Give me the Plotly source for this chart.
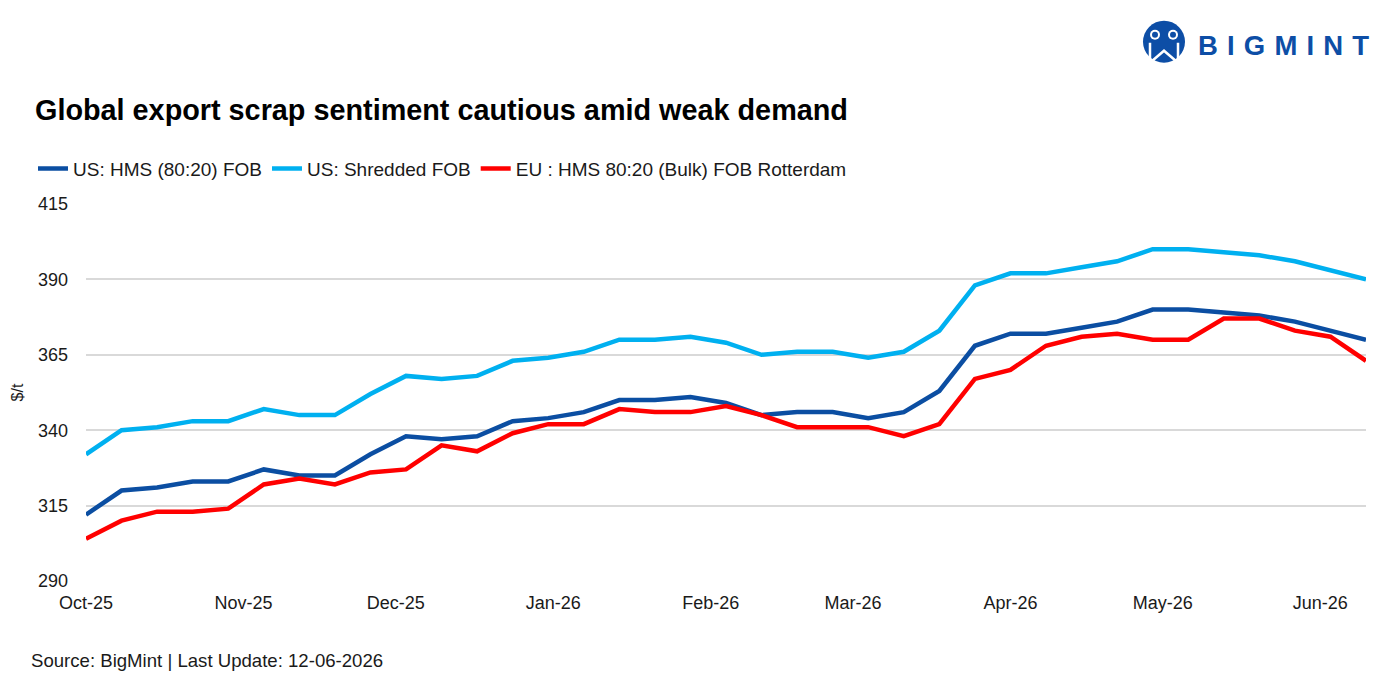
import plotly.graph_objects as go

dates = ["2025-10-01", "2025-10-08", "2025-10-15", "2025-10-22", "2025-10-29",
         "2025-11-05", "2025-11-12", "2025-11-19", "2025-11-26",
         "2025-12-03", "2025-12-10", "2025-12-17", "2025-12-24", "2025-12-31",
         "2026-01-07", "2026-01-14", "2026-01-21", "2026-01-28",
         "2026-02-04", "2026-02-11", "2026-02-18", "2026-02-25",
         "2026-03-04", "2026-03-11", "2026-03-18", "2026-03-25",
         "2026-04-01", "2026-04-08", "2026-04-15", "2026-04-22", "2026-04-29",
         "2026-05-06", "2026-05-13", "2026-05-20", "2026-05-27",
         "2026-06-03", "2026-06-10"]

us_hms = [312, 320, 321, 323, 323, 327, 325, 325, 332, 338, 337, 338,
          343, 344, 346, 350, 350, 351, 349, 345, 346, 346, 344, 346,
          353, 368, 372, 372, 374, 376, 380, 380, 379, 378, 376, 373, 370]
us_shredded = [332, 340, 341, 343, 343, 347, 345, 345, 352, 358, 357, 358,
               363, 364, 366, 370, 370, 371, 369, 365, 366, 366, 364, 366,
               373, 388, 392, 392, 394, 396, 400, 400, 399, 398, 396, 393, 390]
eu_hms = [304, 310, 313, 313, 314, 322, 324, 322, 326, 327, 335, 333,
          339, 342, 342, 347, 346, 346, 348, 345, 341, 341, 341, 338,
          342, 357, 360, 368, 371, 372, 370, 370, 377, 377, 373, 371, 363]

series_names = ["US: HMS (80:20) FOB", "US: Shredded FOB", "EU : HMS 80:20 (Bulk) FOB Rotterdam"]
series_colors = ["#0B4EA2", "#00B0F0", "#FF0000"]
y_ticks = [290, 315, 340, 365, 390, 415]

W, H = 1396, 684
L, R, T, B = 86, 1366, 203.5, 581
FONT = "Liberation Sans, Arial, sans-serif"


def px(x):
    return (x - L) / (R - L)


def py(y):
    return (B - y) / (B - T)


fig = go.Figure()
for name, vals, col in zip(series_names, [us_hms, us_shredded, eu_hms], series_colors):
    fig.add_trace(go.Scatter(x=dates, y=vals, name=name, mode="lines",
                             line=dict(color=col, width=4.5)))

fig.update_layout(
    width=W, height=H,
    margin=dict(l=L, r=W - R, t=T, b=H - B),
    paper_bgcolor="white", plot_bgcolor="white",
    font=dict(family=FONT, size=18, color="#1a1a1a"),
    showlegend=True,
    legend=dict(orientation="h", x=px(33), xanchor="left", y=py(168), yanchor="middle",
                font=dict(size=19, color="#1a1a1a"), itemwidth=30, tracegroupgap=0,
                bgcolor="rgba(0,0,0,0)"),
    title=dict(text="<b>Global export scrap sentiment cautious amid weak demand</b>",
               x=35 / W, xref="container", xanchor="left",
               y=1 - 110 / H, yref="container", yanchor="middle",
               font=dict(size=28.8, color="#000000", family=FONT)),
)

fig.update_xaxes(type="date", range=[dates[0], dates[-1]], tickformat="%b-%y",
                 dtick="M1", tick0="2025-10-01", showgrid=False, zeroline=False,
                 showline=False, ticks="", ticklabelstandoff=9,
                 tickfont=dict(size=18, color="#1a1a1a"))
fig.update_yaxes(range=[290, 415], tickvals=y_ticks, showgrid=True, gridcolor="#D9D9D9",
                 gridwidth=1.5, zeroline=False, showline=False, ticks="",
                 ticklabelstandoff=17, tickfont=dict(size=18, color="#1a1a1a"),
                 title=dict(text="$/t", font=dict(size=16, color="#1a1a1a"), standoff=10))

# Source note
fig.add_annotation(text="Source: BigMint | Last Update: 12-06-2026", xref="paper", yref="paper",
                   x=px(29), y=py(661), xanchor="left", yanchor="middle", showarrow=False,
                   font=dict(size=18.6, color="#1a1a1a"))

# Logo
logo_blue = "#0D4EA6"
fig.add_shape(type="circle", xref="paper", yref="paper",
              x0=px(1143), x1=px(1185), y0=py(62), y1=py(20),
              fillcolor=logo_blue, line=dict(width=0))
for cx in (1155, 1173):
    fig.add_shape(type="circle", xref="paper", yref="paper",
                  x0=px(cx - 5), x1=px(cx + 5), y0=py(39), y1=py(29),
                  fillcolor="white", line=dict(width=0))
    fig.add_shape(type="circle", xref="paper", yref="paper",
                  x0=px(cx - 3), x1=px(cx + 3), y0=py(37), y1=py(31),
                  fillcolor=logo_blue, line=dict(width=0))
fig.add_shape(type="path", xref="paper", yref="paper",
              path=f"M {px(1150)} {py(42)} L {px(1150)} {py(62)} L {px(1164)} {py(50)} L {px(1178)} {py(62)} L {px(1178)} {py(42)}",
              line=dict(color="white", width=2.5))
fig.add_annotation(text="<b>B\u2004I\u2004G\u2004M\u2004I\u2004N\u2004T</b>", xref="paper", yref="paper",
                   x=px(1196), y=py(45), xanchor="left", yanchor="middle", showarrow=False,
                   font=dict(size=27.5, color=logo_blue, family=FONT))

fig.write_html("out.html")
